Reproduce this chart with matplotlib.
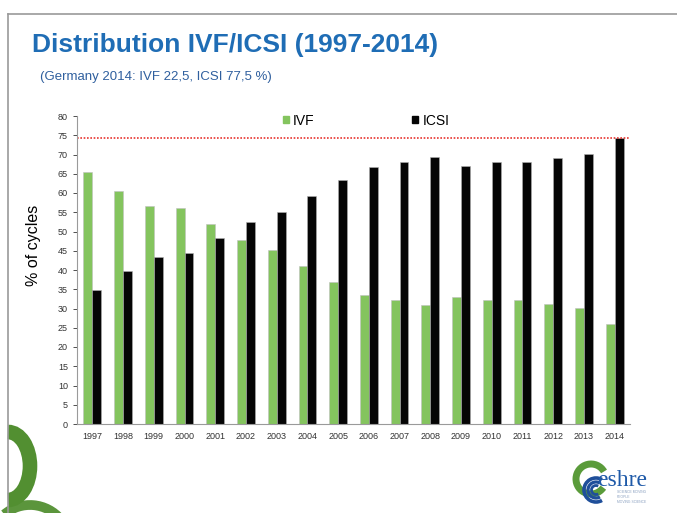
import matplotlib
matplotlib.use("Agg")
import matplotlib.pyplot as plt
import numpy as np
from matplotlib.patches import Patch, Arc

years = ["1997", "1998", "1999", "2000", "2001", "2002", "2003", "2004", "2005",
         "2006", "2007", "2008", "2009", "2010", "2011", "2012", "2013", "2014"]
ivf = [65.4, 60.4, 56.7, 56.0, 51.9, 47.8, 45.2, 41.1, 36.8,
       33.4, 32.2, 30.9, 33.0, 32.2, 32.2, 31.1, 30.2, 26.1]
icsi = [34.7, 39.8, 43.5, 44.3, 48.3, 52.5, 55.0, 59.1, 63.3,
        66.8, 68.1, 69.4, 67.0, 68.1, 68.1, 69.0, 70.2, 74.2]
ref_line = 74.3

plt.rcParams["font.family"] = ["Liberation Sans", "DejaVu Sans"]

W, H = 677, 513
fig = plt.figure(figsize=(W / 100, H / 100), dpi=100)

# slide frame
fig.add_artist(plt.Line2D([8 / W, 1], [1 - 14 / H, 1 - 14 / H], color="#9a9a9a", lw=1.2))
fig.add_artist(plt.Line2D([8 / W, 8 / W], [0, 1 - 14 / H], color="#9a9a9a", lw=1.2))

fig.text(32 / W, 1 - 45 / H, "Distribution IVF/ICSI (1997-2014)", fontsize=19,
         fontweight="bold", color="#1f6db5", va="center")
fig.text(40 / W, 1 - 77 / H, "(Germany 2014: IVF 22,5, ICSI 77,5 %)", fontsize=9.5,
         color="#2f5f9e", va="center")

ax = fig.add_axes([77 / W, 1 - 424 / H, (630 - 77) / W, (424 - 116) / H])
x = np.arange(len(years))
w = 0.29
ax.bar(x - w / 2, ivf, w, color="#84c45e", edgecolor="#c0c0c0", lw=0.4, label="IVF")
ax.bar(x + w / 2, icsi, w, color="#050505", edgecolor="#b0b0b0", lw=0.4, label="ICSI")
ax.axhline(ref_line, color="#e8352f", ls=(0, (1, 1)), lw=1.2)

ax.set_xlim(-0.5, len(years) - 0.5)
ax.set_ylim(0, 80)
ax.set_yticks(np.arange(0, 81, 5))
ax.set_xticks(x)
ax.set_xticklabels(years)
ax.tick_params(axis="both", labelsize=6.5, colors="#333333", length=3, width=0.6)
ax.tick_params(axis="x", length=0, pad=6)
for s in ["top", "right"]:
    ax.spines[s].set_visible(False)
for s in ["left", "bottom"]:
    ax.spines[s].set_color("#9a9a9a")
    ax.spines[s].set_linewidth(0.8)
ax.set_ylabel("% of cycles", fontsize=11.5, color="black")
ax.yaxis.set_label_coords(-36 / (630 - 77), (424 - 245) / (424 - 116))

handles = [Patch(color="#84c45e", label="IVF"), Patch(color="#050505", label="ICSI")]
ax.legend(handles=handles, ncol=2, loc="center", bbox_to_anchor=((366 - 77) / 553, 0.985),
          frameon=False, fontsize=10, handlelength=0.45, handleheight=0.45,
          handletextpad=0.3, columnspacing=7.0)

# decorative green arcs bottom-left
deco = fig.add_axes([0, 0, 1, 1], zorder=-1)
deco.set_xlim(0, W)
deco.set_ylim(H, 0)
deco.axis("off")
deco.add_patch(Arc((8, 466), 44, 68, theta1=-90, theta2=90, lw=10.5, color="#528f31"))
deco.add_patch(Arc((30, 545), 80, 80, theta1=230, theta2=320, lw=7, color="#528f31", alpha=0.95))

# eshre logo
deco.add_patch(Arc((591, 479), 30, 30, theta1=35, theta2=330, lw=5, color="#5a9b3a"))
for r, lw in [(12, 2.6), (8, 2.3), (4.5, 2)]:
    deco.add_patch(Arc((596, 490), r * 2, r * 2, theta1=60, theta2=300, lw=lw, color="#1f4f9a"))
deco.text(597, 481, "eshre", fontsize=17, color="#1f5aa8", family="Liberation Serif", va="center")
deco.text(617, 497, "SCIENCE MOVING\nPEOPLE\nMOVING SCIENCE", fontsize=2.4, color="#8aa0c0",
          va="center", linespacing=1.2)

fig.savefig("out.png", dpi=100)
